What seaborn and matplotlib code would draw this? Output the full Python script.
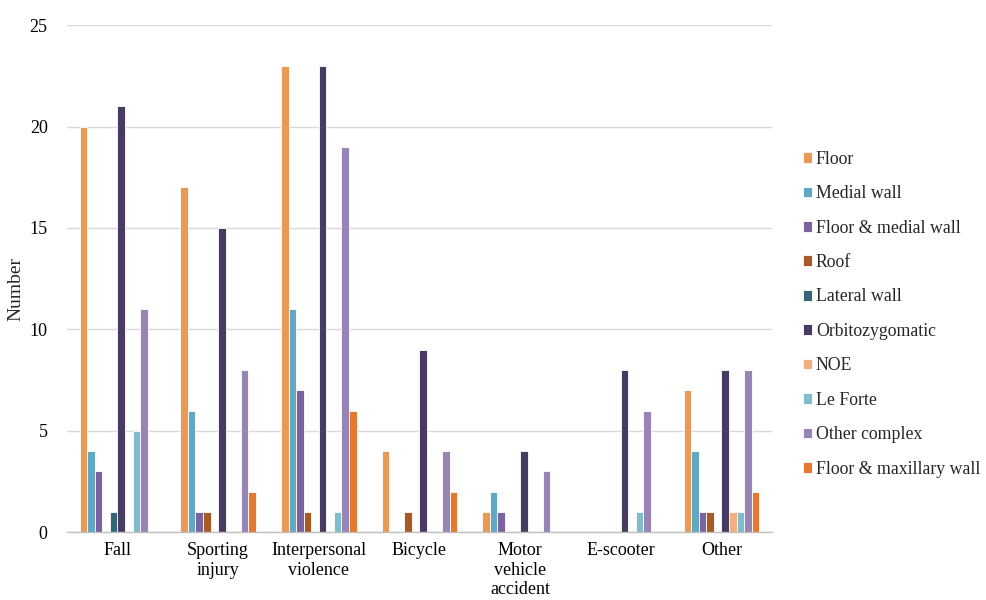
import matplotlib
matplotlib.use("Agg")
import matplotlib.pyplot as plt
import seaborn as sns
import pandas as pd

causes = ["Fall", "Sporting\ninjury", "Interpersonal\nviolence", "Bicycle",
          "Motor\nvehicle\naccident", "E-scooter", "Other"]

fracture_types = ["Floor", "Medial wall", "Floor & medial wall", "Roof", "Lateral wall",
                  "Orbitozygomatic", "NOE", "Le Forte", "Other complex",
                  "Floor & maxillary wall"]

floor = [20, 17, 23, 4, 1, 0, 7]
medial_wall = [4, 6, 11, 0, 2, 0, 4]
floor_medial = [3, 1, 7, 0, 1, 0, 1]
roof = [0, 1, 1, 1, 0, 0, 1]
lateral_wall = [1, 0, 0, 0, 0, 0, 0]
orbitozygomatic = [21, 15, 23, 9, 4, 8, 8]
noe = [0, 0, 0, 0, 0, 0, 1]
le_forte = [5, 0, 1, 0, 0, 1, 1]
other_complex = [11, 8, 19, 4, 3, 6, 8]
floor_maxillary = [0, 2, 6, 2, 0, 0, 2]

palette = ["#E99B55", "#62A8C4", "#7B63A0", "#A85A24", "#346576",
           "#483B62", "#F1B07E", "#80BBCE", "#9786B5", "#E5792F"]

series = [floor, medial_wall, floor_medial, roof, lateral_wall, orbitozygomatic,
          noe, le_forte, other_complex, floor_maxillary]

rows = []
for name, vals in zip(fracture_types, series):
    for cause, v in zip(causes, vals):
        rows.append({"Cause": cause, "Type": name, "Number": v})
df = pd.DataFrame(rows)

sns.set_style("white")
plt.rcParams["font.family"] = ["Liberation Serif", "DejaVu Serif"]

fig = plt.figure(figsize=(9.87, 6.0), dpi=100)
ax = fig.add_axes([0.068, 0.113, 0.714, 0.845])

sns.barplot(data=df, x="Cause", y="Number", hue="Type", order=causes,
            hue_order=fracture_types, palette=palette, saturation=1, width=0.75,
            edgecolor="white", linewidth=0.6, ax=ax, legend=True)

ax.set_ylim(0, 25)
ax.set_yticks([0, 5, 10, 15, 20, 25])
ax.yaxis.grid(True, color="#D9D9D9", linewidth=1)
ax.set_axisbelow(True)
for s in ["top", "right", "left"]:
    ax.spines[s].set_visible(False)
ax.spines["bottom"].set_color("#BFBFBF")
ax.spines["bottom"].set_linewidth(1)
ax.tick_params(axis="both", labelsize=13, colors="black", length=0)
ax.tick_params(axis="y", pad=14)
ax.tick_params(axis="x", pad=7)
ax.set_xlabel("")
ax.set_ylabel("Number", fontsize=14)
ax.yaxis.set_label_coords(-0.06, 0.479)

handles, labels = ax.get_legend_handles_labels()
ax.legend(handles, labels, loc="center left", bbox_to_anchor=(1.021, 0.43),
          frameon=False, fontsize=12.8, handlelength=0.55, handleheight=0.55,
          handletextpad=0.2, labelspacing=0.98)

fig.savefig("out.png", dpi=100)
